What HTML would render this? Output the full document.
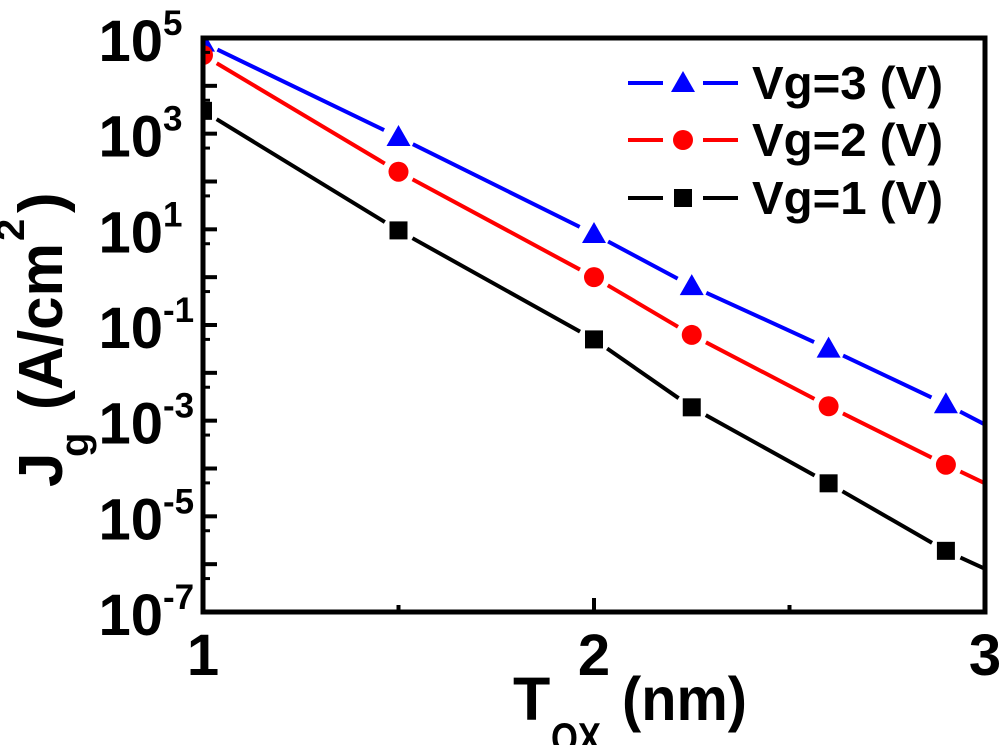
<!DOCTYPE html>
<html><head><meta charset="utf-8"><style>
body{margin:0;background:#fff}
svg text{font-family:"Liberation Sans",Arial,sans-serif;font-weight:bold}
</style></head><body>
<svg id="chart" width="1000" height="745" viewBox="0 0 1000 745" xmlns="http://www.w3.org/2000/svg">
<g id="plot"></g>
</svg>
<script>
const xValues=[1,1.5,2,2.25,2.6,2.9,3];
const markerMask=[1,1,1,1,1,1,0];
const seriesVg3=[8e4,850,8,0.65,0.032,2.2e-3,8.3e-4];
const seriesVg2=[4.4e4,160,1,0.062,2e-3,1.2e-4,4.9e-5];
const seriesVg1=[3e3,9.5,0.05,1.9e-3,4.9e-5,1.9e-6,8e-7];
const yTickExps=[5,3,1,-1,-3,-5,-7];
const xTickLabels=[1,2,3];
const seriesNames=["Vg=3 (V)","Vg=2 (V)","Vg=1 (V)"];

const L=203,R=985,T=38,B=612;
const xs=v=>L+(v-1)/(3-1)*(R-L);
const ys=v=>B-(Math.log10(v)+7)/12*(B-T);
const NS="http://www.w3.org/2000/svg";
const g=document.getElementById('plot');
function mk(tag,attrs,parent){const e=document.createElementNS(NS,tag);for(const k in attrs)e.setAttribute(k,attrs[k]);(parent||g).appendChild(e);return e;}

function marker(type,x,y,color,parent,s){
  s=s||1;let e;
  if(type==='tri'){e=mk('polygon',{points:`${x},${y-12*s} ${x-12*s},${y+9*s} ${x+12*s},${y+9*s}`,fill:color},parent);}
  else if(type==='circ'){e=mk('circle',{cx:x,cy:y,r:10*s,fill:color},parent);}
  else {e=mk('rect',{x:x-9*s,y:y-9*s,width:18*s,height:18*s,fill:color},parent);}
  return e;
}
const series=[[seriesVg3,'#0000ff','tri','series-vg3'],[seriesVg2,'#ff0000','circ','series-vg2'],[seriesVg1,'#000','sq','series-vg1']];
const clip=mk('clipPath',{id:'cp'});mk('rect',{x:L,y:T,width:R-L,height:B-T},clip);
series.forEach(([vals,c,m,name])=>{
  const sg=mk('g',{'clip-path':'url(#cp)'});
  
  
  for(let i=0;i<vals.length-1;i++){
    const x1=xs(xValues[i]),y1=ys(vals[i]),x2=xs(xValues[i+1]),y2=ys(vals[i+1]);
    const dx=x2-x1,dy=y2-y1,len=Math.hypot(dx,dy),ux=dx/len,uy=dy/len;
    const g1=markerMask[i]?16:0,g2=markerMask[i+1]?16:0;
    const ln=mk('line',{x1:x1+ux*g1,y1:y1+uy*g1,x2:x2-ux*g2,y2:y2-uy*g2,stroke:c,'stroke-width':4},sg);
    
    
  }
  vals.forEach((v,i)=>{if(!markerMask[i])return;const e=marker(m,xs(xValues[i]),ys(v),c,sg);
    
    });
});
const box=mk('rect',{x:L,y:T,width:R-L,height:B-T,fill:'none',stroke:'#000','stroke-width':5});


for(let e=-7;e<=5;e++){
  const y=ys(Math.pow(10,e));
  const t=mk('line',{x1:L,x2:L+14,y1:y,y2:y,stroke:'#000','stroke-width':4});
  
  
  if(e<5){const ym=ys(5*Math.pow(10,e));const mt=mk('line',{x1:L,x2:L+7,y1:ym,y2:ym,stroke:'#000','stroke-width':3});
    
    }
}
yTickExps.forEach(e=>{
  const y=ys(Math.pow(10,e));
  const t=mk('text',{x:163,y:y+23,'font-size':58,'text-anchor':'end'});
  
  
  t.textContent='10';
  const s=mk('text',{x:163,y:y-3,'font-size':35});
  
  
  s.textContent=(e<0?'-':'')+Math.abs(e);
});
[1.5,2,2.5].forEach(v=>{const major=v===2;const t=mk('line',{x1:xs(v),x2:xs(v),y1:B,y2:B-(major?14:7),stroke:'#000','stroke-width':4});
  
  });
xTickLabels.forEach(v=>{const t=mk('text',{x:xs(v),y:675,'font-size':58,'text-anchor':'middle'});
  
  
  t.textContent=v;});
const xt=mk('text',{y:720,'font-size':61});


xt.innerHTML='<tspan x="513">T</tspan><tspan x="551" y="752" font-size="42" textLength="50" lengthAdjust="spacingAndGlyphs">OX</tspan><tspan x="622" y="720" textLength="125" lengthAdjust="spacingAndGlyphs">(nm)</tspan>';
const yt=mk('text',{transform:'translate(62,487) rotate(-90)','font-size':62});


yt.innerHTML='<tspan x="0" y="0">J</tspan><tspan x="30" y="26" font-size="40">g</tspan><tspan x="77" y="0" textLength="167" lengthAdjust="spacingAndGlyphs">(A/cm</tspan><tspan x="246" y="-38" font-size="40">2</tspan><tspan x="274" y="0">)</tspan>';
const lg=mk('g',{});


const legendY=[83,140,198];
series.forEach(([vals,c,m,name],i)=>{
  const y=legendY[i];
  const le=mk('g',{},lg);
  
  
  mk('line',{x1:628,x2:663,y1:y,y2:y,stroke:c,'stroke-width':4},le);
  mk('line',{x1:703,x2:738,y1:y,y2:y,stroke:c,'stroke-width':4},le);
  marker(m,683,y,c,le,1.0);
  const t=mk('text',{x:752,y:y+16,'font-size':46,textLength:191,lengthAdjust:'spacingAndGlyphs'},le);t.textContent=seriesNames[i];
});
</script>
</body></html>
